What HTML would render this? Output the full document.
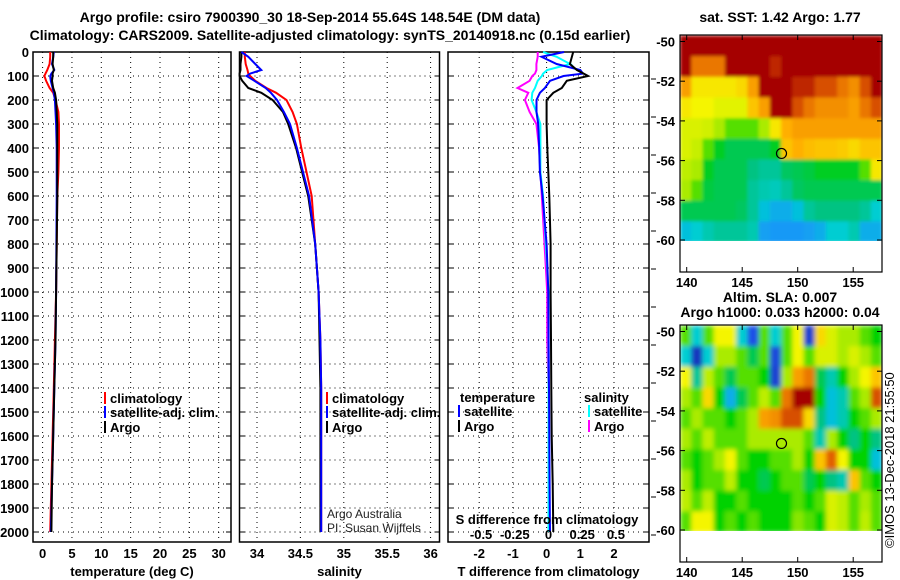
<!DOCTYPE html>
<html><head><meta charset="utf-8"><style>
body{margin:0;background:#fff;width:900px;height:580px;overflow:hidden}
svg{display:block;font-family:"Liberation Sans",sans-serif}
.t{font-weight:bold;font-size:14px}
.k{font-weight:bold;font-size:13px}
</style></head><body>
<svg id="fig" width="900" height="580">
<defs>
<filter id="blurS" x="-5%" y="-5%" width="110%" height="110%"><feGaussianBlur stdDeviation="1.5" edgeMode="duplicate"/></filter>
<filter id="blurL" x="-5%" y="-5%" width="110%" height="110%"><feGaussianBlur stdDeviation="2.5" edgeMode="duplicate"/></filter>
<clipPath id="clipTop"><rect x="680" y="35" width="202" height="206"/></clipPath>
<clipPath id="clipBot"><rect x="680" y="325" width="202" height="206"/></clipPath>
</defs>
<text class="t" x="310" y="22" text-anchor="middle">Argo profile: csiro 7900390_30 18-Sep-2014 55.64S 148.54E (DM data)</text>
<text class="t" x="330" y="40" text-anchor="middle">Climatology: CARS2009. Satellite-adjusted climatology: synTS_20140918.nc (0.15d earlier)</text>
<text class="t" x="780" y="22" text-anchor="middle">sat. SST: 1.42 Argo: 1.77</text>
<text class="t" x="780" y="302" text-anchor="middle">Altim. SLA: 0.007</text>
<text class="t" x="780" y="317" text-anchor="middle">Argo h1000: 0.033 h2000: 0.04</text>
<text x="0" y="0" font-size="13" transform="translate(894,548) rotate(-90)">©IMOS 13-Dec-2018 21:55:50</text>
<g id="plots"></g>
</svg>
<script>
const depth=[0,20,50,75,90,100,120,150,170,200,250,300,400,500,600,800,1000,1200,1400,1600,1800,2000];
const tArgo=[1.8,1.8,1.7,1.9,1.7,1.7,1.6,1.8,2.1,2.3,2.4,2.5,2.5,2.5,2.5,2.4,2.3,2.2,2.0,1.8,1.6,1.5];
const tClim=[1.3,1.3,1.2,0.8,0.5,0.3,0.6,1.2,1.8,2.2,2.7,2.8,2.8,2.7,2.5,2.4,2.3,2.1,1.9,1.7,1.5,1.3];
const tSat=[1.9,1.8,1.6,2.0,1.5,1.3,1.4,1.7,1.9,2.1,2.2,2.3,2.4,2.4,2.4,2.35,2.3,2.2,2.0,1.8,1.6,1.4];
const sClim=[33.86,33.86,33.87,33.89,33.9,33.92,33.98,34.11,34.22,34.34,34.41,34.46,34.51,34.57,34.63,34.67,34.71,34.73,34.74,34.74,34.74,34.74];
const sSat=[33.82,33.9,33.98,34.05,33.92,33.88,33.97,34.1,34.16,34.23,34.31,34.38,34.46,34.53,34.6,34.67,34.71,34.73,34.74,34.74,34.74,34.74];
const sArgo=[33.82,33.82,33.81,33.81,33.8,33.8,33.83,33.9,34.05,34.18,34.3,34.36,34.45,34.52,34.59,34.67,34.71,34.72,34.73,34.73,34.73,34.73];
const dtArgo=[0.79,0.75,0.69,0.9,1.1,1.23,0.6,0.45,0.2,0,0,0,0.02,0.05,0.08,0.12,0.12,0.13,0.14,0.15,0.18,0.2];
const dtSat=[0.52,-0.15,0.3,1.0,1.08,0.5,0.1,-0.05,-0.2,-0.3,-0.3,-0.25,-0.22,-0.2,-0.12,0,0.05,0.06,0.07,0.08,0.09,0.1];
const dsSat=[-0.04,0.06,0.16,-0.01,-0.04,-0.05,-0.08,-0.1,-0.12,-0.125,-0.09,-0.06,-0.06,-0.06,-0.04,-0.02,0,0,0,0,0,0];
const dsArgo=[-0.08,-0.08,-0.09,-0.09,-0.1,-0.12,-0.14,-0.23,-0.15,-0.175,-0.14,-0.09,-0.07,-0.06,-0.05,-0.03,-0.01,-0.01,0,0,0,0];
const depthTicks=[0,100,200,300,400,500,600,700,800,900,1000,1100,1200,1300,1400,1500,1600,1700,1800,1900,2000];
const tTicks=[0,5,10,15,20,25,30];
const sTicks=[34,34.5,35,35.5,36];
const sTickLabels=["34","34.5","35","35.5","36"];
const dtTicks=[-2,-1,0,1,2];
const dsTicks=[-0.5,-0.25,0,0.25,0.5];
const dsTickLabels=["-0.5","-0.25","0","0.25","0.5"];
// maps: rows lat -50..-59 (top to bottom), cols lon 140..157
const sstGrid=[
[1,1,1,1,1,1,1,1,1,1,1,1,1,1,1,1,1,1],
[1,0.85,0.85,0.85,1,1,1,1,0.95,1,1,1,1,1,1,1,1,1],
[0.8,0.7,0.7,0.7,0.7,0.72,0.8,1,1,1,0.95,0.95,0.9,0.9,0.85,0.82,0.9,1],
[0.7,0.68,0.68,0.66,0.66,0.66,0.75,0.8,1,1,0.9,0.85,0.82,0.82,0.82,0.8,0.85,0.9],
[0.65,0.65,0.64,0.6,0.55,0.55,0.55,0.6,0.7,0.78,0.8,0.8,0.8,0.8,0.8,0.8,0.8,0.8],
[0.65,0.63,0.55,0.48,0.45,0.45,0.45,0.45,0.48,0.75,0.78,0.76,0.75,0.75,0.74,0.72,0.75,0.75],
[0.62,0.6,0.48,0.45,0.45,0.45,0.42,0.4,0.4,0.44,0.45,0.46,0.48,0.48,0.48,0.48,0.55,0.7],
[0.6,0.55,0.46,0.45,0.45,0.45,0.4,0.38,0.37,0.4,0.44,0.45,0.45,0.45,0.45,0.45,0.45,0.45],
[0.45,0.45,0.45,0.45,0.45,0.44,0.4,0.33,0.3,0.3,0.33,0.4,0.42,0.42,0.42,0.42,0.4,0.35],
[0.33,0.35,0.38,0.4,0.4,0.4,0.38,0.28,0.27,0.27,0.27,0.28,0.3,0.35,0.35,0.38,0.3,0.3]];
const slaGrid=[
[0.55,0.35,0.55,0.68,0.68,0.35,0.15,0.55,0.35,0.55,0.68,0.1,0.72,0.65,0.6,0.6,0.55,0.5],
[0.35,0.05,0.35,0.6,0.6,0.55,0.45,0.55,0.12,0.55,0.68,0.55,0.65,0.65,0.6,0.65,0.6,0.55],
[0.68,0.4,0.62,0.55,0.45,0.55,0.55,0.5,0.1,0.6,0.8,0.85,0.45,0.38,0.5,0.6,0.68,0.75],
[0.6,0.55,0.72,0.5,0.3,0.45,0.55,0.62,0.55,0.85,1.0,1.0,0.5,0.33,0.38,0.55,0.6,0.9],
[0.55,0.6,0.55,0.55,0.5,0.55,0.6,0.8,0.82,0.9,0.9,0.72,0.42,0.33,0.38,0.5,0.55,0.6],
[0.6,0.55,0.62,0.55,0.55,0.55,0.6,0.6,0.6,0.6,0.6,0.55,0.38,0.6,0.5,0.42,0.5,0.42],
[0.55,0.5,0.55,0.6,0.68,0.55,0.5,0.5,0.55,0.55,0.6,0.5,0.75,0.88,0.68,0.5,0.5,0.33],
[0.6,0.5,0.55,0.55,0.62,0.5,0.5,0.45,0.5,0.55,0.55,0.45,0.5,0.42,0.38,0.75,0.55,0.5],
[0.62,0.55,0.62,0.5,0.5,0.55,0.5,0.5,0.5,0.5,0.55,0.5,0.55,0.65,0.62,0.55,0.6,0.55],
[0.55,0.68,0.68,0.5,0.55,0.5,0.55,0.5,0.5,0.5,0.58,0.55,0.5,0.65,0.62,0.55,0.62,0.55]];
const latTicks=[-50,-52,-54,-56,-58,-60];
const lonTicks=[140,145,150,155];
const floatLon=148.54, floatLat=-55.64;

const NS='http://www.w3.org/2000/svg';
const root=document.getElementById('plots');
function mk(tag,attrs,parent){const e=document.createElementNS(NS,tag);for(const k in attrs)e.setAttribute(k,attrs[k]);(parent||root).appendChild(e);return e;}
const yD=d=>52+d*0.24;
const Y0=52,Y1=542;
const xT=v=>42.6+v*5.87;
const xS=v=>257+(v-34)*86.8;
const xDT=v=>546.6+v*33.7;
const xDS=v=>548.5+v*134.8;
function panel(name,x0,x1,xticks,xf,labels,xlabel,showY){
  const g=mk('g',{});
  
  
  xticks.forEach((t,i)=>{const x=xf(t);
    const l=mk('line',{x1:x,x2:x,y1:Y0,y2:Y1,stroke:'#000','stroke-width':1,'stroke-dasharray':'1,4'},g);
    
    const tx=mk('text',{x:x,y:558,'text-anchor':'middle',class:'k'},g);tx.textContent=labels[i];
    });
  depthTicks.forEach(d=>{const y=yD(d);
    const l=mk('line',{x1:x0,x2:x1,y1:y,y2:y,stroke:'#000','stroke-width':1,'stroke-dasharray':'1,4'},g);
    
    mk('line',{x1:x0,x2:x0+5,y1:y,y2:y,stroke:'#000'},g);mk('line',{x1:x1-5,x2:x1,y1:y,y2:y,stroke:'#000'},g);
    if(showY){const tx=mk('text',{x:x0-4,y:y+5,'text-anchor':'end',class:'k'},g);tx.textContent=d;
      }});
  const r=mk('rect',{x:x0,y:Y0,width:x1-x0,height:Y1-Y0,fill:'none',stroke:'#000','stroke-width':1.5},g);
  
  const xl=mk('text',{x:(x0+x1)/2,y:576,'text-anchor':'middle',class:'k'},g);xl.textContent=xlabel;
  
  return g;
}
function line(g,vals,xf,color,name){
  const pts=vals.map((v,i)=>xf(v).toFixed(1)+','+yD(depth[i]).toFixed(1)).join(' ');
  const p=mk('polyline',{points:pts,fill:'none',stroke:color,'stroke-width':2},g);
  
}
function leg(g,x,y,color,label){
  mk('rect',{x:x,y:y-11,width:2,height:12,fill:color},g);
  const t=mk('text',{x:x+6,y:y,class:'k'},g);t.textContent=label;
  
}
const g1=panel('temperature-panel',33,231,tTicks,xT,tTicks.map(String),'temperature (deg C)',true);
line(g1,tClim,xT,'#f00','temp-climatology-line');line(g1,tSat,xT,'#00f','temp-satellite-line');line(g1,tArgo,xT,'#000','temp-argo-line');
leg(g1,104,403,'#f00','climatology');leg(g1,104,417,'#00f','satellite-adj. clim.');leg(g1,104,432,'#000','Argo');
const g2=panel('salinity-panel',239.5,439.5,sTicks,xS,sTickLabels,'salinity',false);
line(g2,sClim,xS,'#f00','sal-climatology-line');line(g2,sArgo,xS,'#000','sal-argo-line');line(g2,sSat,xS,'#00f','sal-satellite-line');
leg(g2,326,403,'#f00','climatology');leg(g2,326,417,'#00f','satellite-adj. clim.');leg(g2,326,432,'#000','Argo');
let a=mk('text',{x:327,y:518,'font-size':12,fill:'#222'},g2);a.textContent='Argo Australia';

a=mk('text',{x:327,y:532,'font-size':12,fill:'#222'},g2);a.textContent='PI: Susan Wijffels';

const g3=panel('difference-panel',448,649,dtTicks,xDT,dtTicks.map(String),'T difference from climatology',false);
line(g3,dsArgo,xDS,'#f0f','s-diff-argo-line');line(g3,dsSat,xDS,'#0ff','s-diff-satellite-line');
line(g3,dtSat,xDT,'#00f','t-diff-satellite-line');line(g3,dtArgo,xDT,'#000','t-diff-argo-line');
a=mk('text',{x:460,y:402,class:'k'},g3);a.textContent='temperature';
a=mk('text',{x:584,y:402,class:'k'},g3);a.textContent='salinity';
leg(g3,458,416,'#00f','satellite');leg(g3,458,431,'#000','Argo');
leg(g3,588,416,'#0ff','satellite');leg(g3,588,431,'#f0f','Argo');
a=mk('text',{x:547,y:524,'text-anchor':'middle',class:'k'},g3);a.textContent='S difference from climatology';

dsTicks.forEach((t,i)=>{const tx=mk('text',{x:xDS(t),y:539,'text-anchor':'middle',class:'k'},g3);tx.textContent=dsTickLabels[i];
  });
[79,117,155,193,231,269,307,345,383,421,459,497,535].forEach(y=>mk('line',{x1:651,x2:656,y1:y,y2:y,stroke:'#000'},g3));

// colormap
const stops=[[0,[20,40,170]],[0.15,[30,80,230]],[0.25,[30,140,255]],[0.35,[0,205,210]],[0.42,[0,195,130]],[0.5,[0,210,0]],[0.6,[170,235,0]],[0.68,[245,245,0]],[0.78,[255,175,0]],[0.88,[225,95,0]],[1,[165,0,0]]];
function cmap(v){if(v<0)return '#fff';for(let i=1;i<stops.length;i++){if(v<=stops[i][0]){const a=stops[i-1],b=stops[i],f=(v-a[0])/(b[0]-a[0]);
  return 'rgb('+a[1].map((c,k)=>Math.round(c+(b[1][k]-c)*f)).join(',')+')';}}return 'rgb(165,0,0)';}
const mx=lon=>686.7+(lon-140)*11.1;
function map(name,grid,top,lat50,clip,filt){
  const my=lat=>lat50+(-50-lat)*19.85;
  const g=mk('g',{});
  const cg=mk('g',{'clip-path':'url(#'+clip+')'},g);
  const fg=mk('g',{filter:'url(#'+filt+')'},cg);
  const lat0=-49.7, dlat=(60.1-49.7)/grid.length;
  const lon0=139.4, dlon=(157.6-139.4)/grid[0].length;
  grid.forEach((row,r)=>row.forEach((v,c)=>{
    const x0=mx(lon0+c*dlon),x1=mx(lon0+(c+1)*dlon);
    const y0=my(lat0-r*dlat),y1=my(lat0-(r+1)*dlat);
    const cell=mk('rect',{x:x0,y:y0,width:x1-x0+0.6,height:y1-y0+0.6,fill:cmap(v)},fg);
    }));
  const bottom=top+237;
  mk('rect',{x:680,y:top,width:202,height:237,fill:'none',stroke:'#000','stroke-width':1.2},g);
  latTicks.forEach(l=>{const y=my(l);mk('line',{x1:680,x2:685,y1:y,y2:y,stroke:'#000'},g);mk('line',{x1:877,x2:882,y1:y,y2:y,stroke:'#000'},g);
    const t=mk('text',{x:675,y:y+5,'text-anchor':'end',class:'k'},g);t.textContent=l;
    });
  lonTicks.forEach(l=>{const x=mx(l);mk('line',{x1:x,x2:x,y1:bottom-5,y2:bottom,stroke:'#000'},g);mk('line',{x1:x,x2:x,y1:top,y2:top+5,stroke:'#000'},g);
    const t=mk('text',{x:x,y:bottom+15,'text-anchor':'middle',class:'k'},g);t.textContent=l;
    });
  const c=mk('circle',{cx:mx(floatLon),cy:my(floatLat),r:5,fill:'none',stroke:'#000','stroke-width':1.2},g);
  
}
map('sst-map',sstGrid,35,41.5,'clipTop','blurS');
map('sla-map',slaGrid,325,331.5,'clipBot','blurL');
</script>
</body></html>
